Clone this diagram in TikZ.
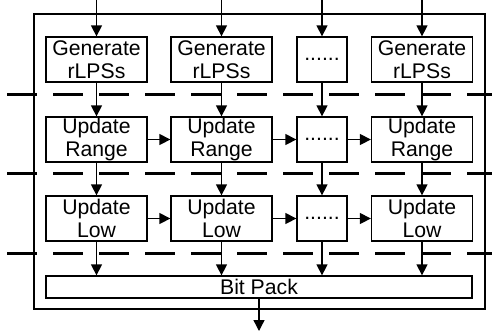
\documentclass[tikz,border=0pt]{standalone}
\usepackage{fontspec}
\setmainfont{Liberation Sans}
\usetikzlibrary{arrows.meta}

\begin{document}
\begin{tikzpicture}[x=0.5pt,y=-0.5pt,>={Triangle[length=5.5pt,width=5.5pt]},
  bloque/.style={draw,line width=0.65pt,minimum width=50.5pt,minimum height=22.5pt,
    align=center,inner sep=0pt,font=\fontsize{10.6}{11.8}\selectfont},
  estrecho/.style={bloque,minimum width=25pt},
  flecha/.style={->,line width=0.65pt},
  corte/.style={line width=1.5pt,dash pattern=on 14.75pt off 8.25pt}]
  \useasboundingbox (0,0) rectangle (492,334);
  % marco exterior
  \draw[line width=0.65pt] (34,14) rectangle (485,309);
  % separadores de etapa
  \draw[corte] (7,94) -- (492,94);
  \draw[corte] (7,173) -- (492,173);
  \draw[corte] (7,253) -- (492,253);
  % fila 1
  \node[bloque] (g1) at (96.5,59.5) {Generate\\rLPSs};
  \node[bloque] (g2) at (221.5,59.5) {Generate\\rLPSs};
  \node[estrecho] (g3) at (322,59.5) {......};
  \node[bloque] (g4) at (422,59.5) {Generate\\rLPSs};
  % fila 2
  \node[bloque] (r1) at (96.5,139.5) {Update\\Range};
  \node[bloque] (r2) at (221.5,139.5) {Update\\Range};
  \node[estrecho] (r3) at (322,139.5) {......};
  \node[bloque] (r4) at (422,139.5) {Update\\Range};
  % fila 3
  \node[bloque] (l1) at (96.5,218.5) {Update\\Low};
  \node[bloque] (l2) at (221.5,218.5) {Update\\Low};
  \node[estrecho] (l3) at (322,218.5) {......};
  \node[bloque] (l4) at (422,218.5) {Update\\Low};
  % empaquetado
  \node[bloque,minimum width=213pt,minimum height=11pt] (bp) at (259,287) {Bit Pack};
  \coordinate (sal) at (259,331);
  % flechas
  \foreach \c in {1,2,3,4} {
    \coordinate (in\c) at (g\c |- 0,0);
    \draw[flecha] (in\c) -- (g\c);
    \draw[flecha] (g\c) -- (r\c);
    \draw[flecha] (r\c) -- (l\c);
    \draw[flecha] (l\c) -- (l\c |- bp.north);
  }
  \foreach \a/\b in {1/2,2/3,3/4} {
    \draw[flecha] (r\a) -- (r\b);
    \draw[flecha] (l\a) -- (l\b);
  }
  \draw[flecha] (bp) -- (sal);
\end{tikzpicture}
\end{document}
